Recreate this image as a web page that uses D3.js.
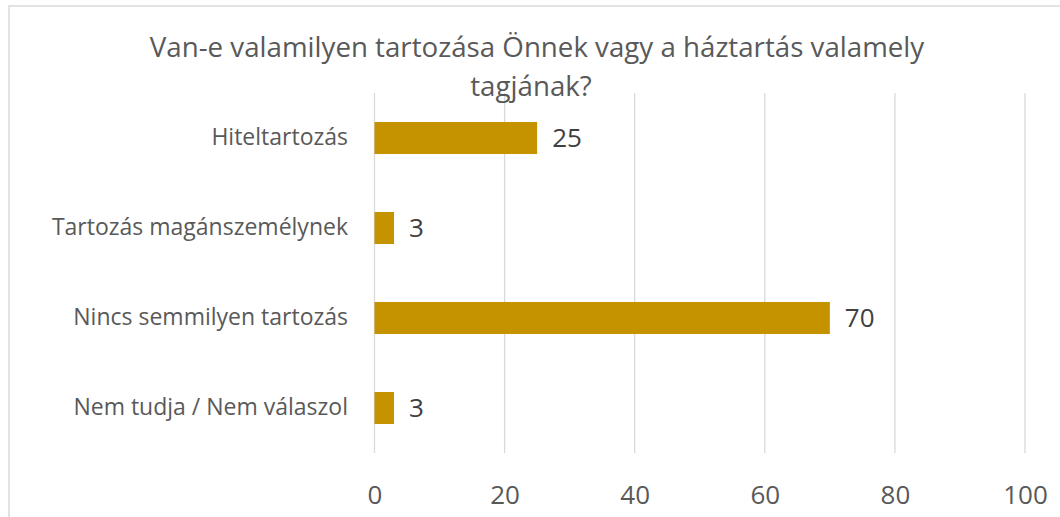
<!DOCTYPE html>
<html>
<head>
<meta charset="utf-8">
<script src="https://cdn.jsdelivr.net/npm/d3@7"></script>
<style>
  body { margin: 0; background: #fff; }
  text { font-family: "Open Sans", sans-serif; }
</style>
</head>
<body>
<div id="chart"></div>
<script>
const WIDTH = 1060;
const HEIGHT = 517;
const TITLE_LINES = ['Van-e valamilyen tartozása Önnek vagy a háztartás valamely', 'tagjának?'];
const CATEGORIES = ['Hiteltartozás', 'Tartozás magánszemélynek', 'Nincs semmilyen tartozás', 'Nem tudja / Nem válaszol'];
const VALUES = [25, 3, 70, 3];
const TICKS = [0, 20, 40, 60, 80, 100];
const BAR_COLOR = '#c59200';
const TEXT_COLOR = '#595959';

const svg = d3.select('#chart').append('svg')
  .attr('width', WIDTH)
  .attr('height', HEIGHT);

// chart frame, right and bottom edges fall outside the picture
svg.append('rect')
  .attr('x', 9)
  .attr('y', 6)
  .attr('width', WIDTH + 20)
  .attr('height', HEIGHT + 20)
  .attr('fill', '#fff')
  .attr('stroke', '#d9d9d9')
  .attr('stroke-width', 1.5);

const x = d3.scaleLinear()
  .domain([0, 100])
  .range([374.5, 1025]);
const y = d3.scaleBand()
  .domain(CATEGORIES)
  .range([93, 453])
  .paddingInner(0.644)
  .paddingOuter(0.322);

svg.append('g')
  .selectAll('line')
  .data(TICKS)
  .enter()
  .append('line')
  .attr('x1', d => x(d))
  .attr('x2', d => x(d))
  .attr('y1', y.range()[0])
  .attr('y2', y.range()[1])
  .attr('stroke', '#d9d9d9')
  .attr('stroke-width', 1.3);

const xAxis = d3.axisBottom(x)
  .tickValues(TICKS)
  .tickSize(0)
  .tickPadding(0);
const axisG = svg.append('g')
  .attr('transform', 'translate(0, 486)')
  .call(xAxis);
axisG.select('.domain').remove();
axisG.selectAll('text')
  .attr('dy', '0.71em')
  .attr('fill', TEXT_COLOR)
  .style('font-size', '26px')
  .style('font-family', '"Open Sans", sans-serif');

const yAxis = d3.axisLeft(y)
  .tickSize(0)
  .tickPadding(0);
const yAxisG = svg.append('g')
  .attr('transform', 'translate(348, 0)')
  .call(yAxis);
yAxisG.select('.domain').remove();
yAxisG.selectAll('text')
  .attr('fill', TEXT_COLOR)
  .style('font-size', '23px')
  .style('font-family', '"Open Sans", sans-serif');

const rows = CATEGORIES.map((c, i) => ({ name: c, value: VALUES[i] }));

svg.append('g')
  .selectAll('rect')
  .data(rows)
  .enter()
  .append('rect')
  .attr('x', x(0))
  .attr('y', d => y(d.name))
  .attr('width', d => x(d.value) - x(0))
  .attr('height', y.bandwidth())
  .attr('fill', BAR_COLOR);

svg.append('g')
  .selectAll('text')
  .data(rows)
  .enter()
  .append('text')
  .attr('x', d => x(d.value) + 15)
  .attr('y', d => y(d.name) + y.bandwidth() / 2)
  .attr('dy', '0.35em')
  .attr('fill', '#404040')
  .style('font-size', '26px')
  .text(d => d.value);

svg.append('g')
  .selectAll('text')
  .data(TITLE_LINES)
  .enter()
  .append('text')
  .attr('x', (d, i) => i === 0 ? 537 : 531)
  .attr('y', (d, i) => 57 + i * 39)
  .attr('text-anchor', 'middle')
  .attr('fill', TEXT_COLOR)
  .style('font-size', '27.7px')
  .text(d => d);
</script>
</body>
</html>
